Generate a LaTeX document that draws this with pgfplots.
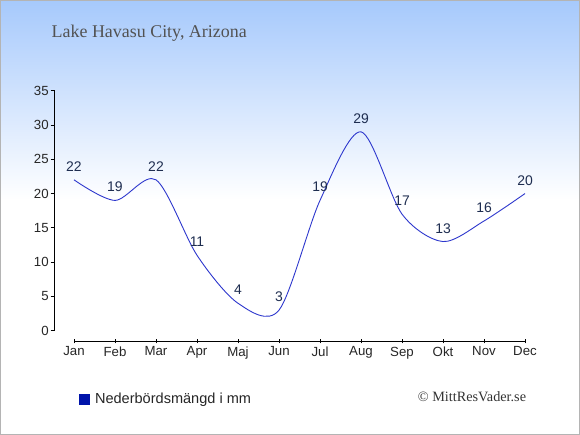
\documentclass[border=0pt]{standalone}
\usepackage{fontspec}
\usepackage{pgfplots}
\pgfplotsset{compat=1.18}
\setmainfont{Liberation Serif}
\newfontfamily\arial{Liberation Sans}
\definecolor{topblue}{RGB}{166,201,252}
\definecolor{linecol}{RGB}{45,55,205}
\definecolor{labcol}{RGB}{30,45,80}
\definecolor{legblue}{RGB}{0,20,170}
\definecolor{bordergray}{RGB}{180,180,180}
\pgfplotstableread{
x y
0 22
1 19
2 22
3 11
4 4
5 3
6 19
7 29
8 17
9 13
10 16
11 20
}\raindata
\begin{document}
\begin{tikzpicture}[x=1bp,y=1bp]
\fill[white] (0,0) rectangle (580,435);
\shade[top color=topblue, bottom color=white] (0,235) rectangle (580,435);
\draw[bordergray, line width=1bp] (0.5,0.5) rectangle (579.5,434.5);
\node[anchor=base west, inner sep=0, text=black!68, font=\fontsize{18}{21}\selectfont] at (51.5,397.3) {Lake Havasu City, Arizona};
\node[anchor=base west, inner sep=0, text=black!80, font=\fontsize{14.3}{16}\selectfont] at (417.7,33.3) {\textcopyright\ MittResVader.se};
\begin{axis}[
  at={(74bp,104.3bp)}, anchor=south west,
  width=451bp, height=240bp, scale only axis,
  xmin=0, xmax=11, ymin=0, ymax=35,
  axis x line*=bottom, axis y line*=left,
  axis x line shift=10.6bp, axis y line shift=19.3bp,
  x axis line style={-, black, line width=0.8bp},
  y axis line style={-, black, line width=0.8bp},
  xtick={0,...,11},
  xticklabels={Jan,Feb,Mar,Apr,Maj,Jun,Jul,Aug,Sep,Okt,Nov,Dec},
  ytick={0,5,...,35},
  major tick length=4bp,
  xtick align=center, ytick align=outside,
  tick style={black, line width=0.8bp},
  ticklabel style={font=\arial\fontsize{13.3}{15}\selectfont, text=black!85},
  yticklabel style={xshift=1.5bp},
  /pgf/number format/assume math mode=true,
  clip=false,
  legend style={at={(rel axis cs:0.003,-0.285)}, anchor=west, draw=none, fill=none,
    font=\arial\fontsize{14.6}{17}\selectfont, text=black!85},
]
\addplot[smooth, tension=0.5, color=linecol, line width=0.9bp, mark=none,
  nodes near coords,
  every node near coord/.append style={font=\arial\fontsize{14}{16}\selectfont, text=labcol, anchor=center, yshift=13.3bp},
  legend image code/.code={\fill[legblue, draw=none] (0bp,-5.5bp) rectangle (11bp,5.5bp); \path[draw=none, fill=none] (0bp,0bp) -- (14.5bp,0bp);}
] table[x=x,y=y] {\raindata};
\addlegendentry{Nederbördsmängd i mm}
\end{axis}
\end{tikzpicture}
\end{document}
